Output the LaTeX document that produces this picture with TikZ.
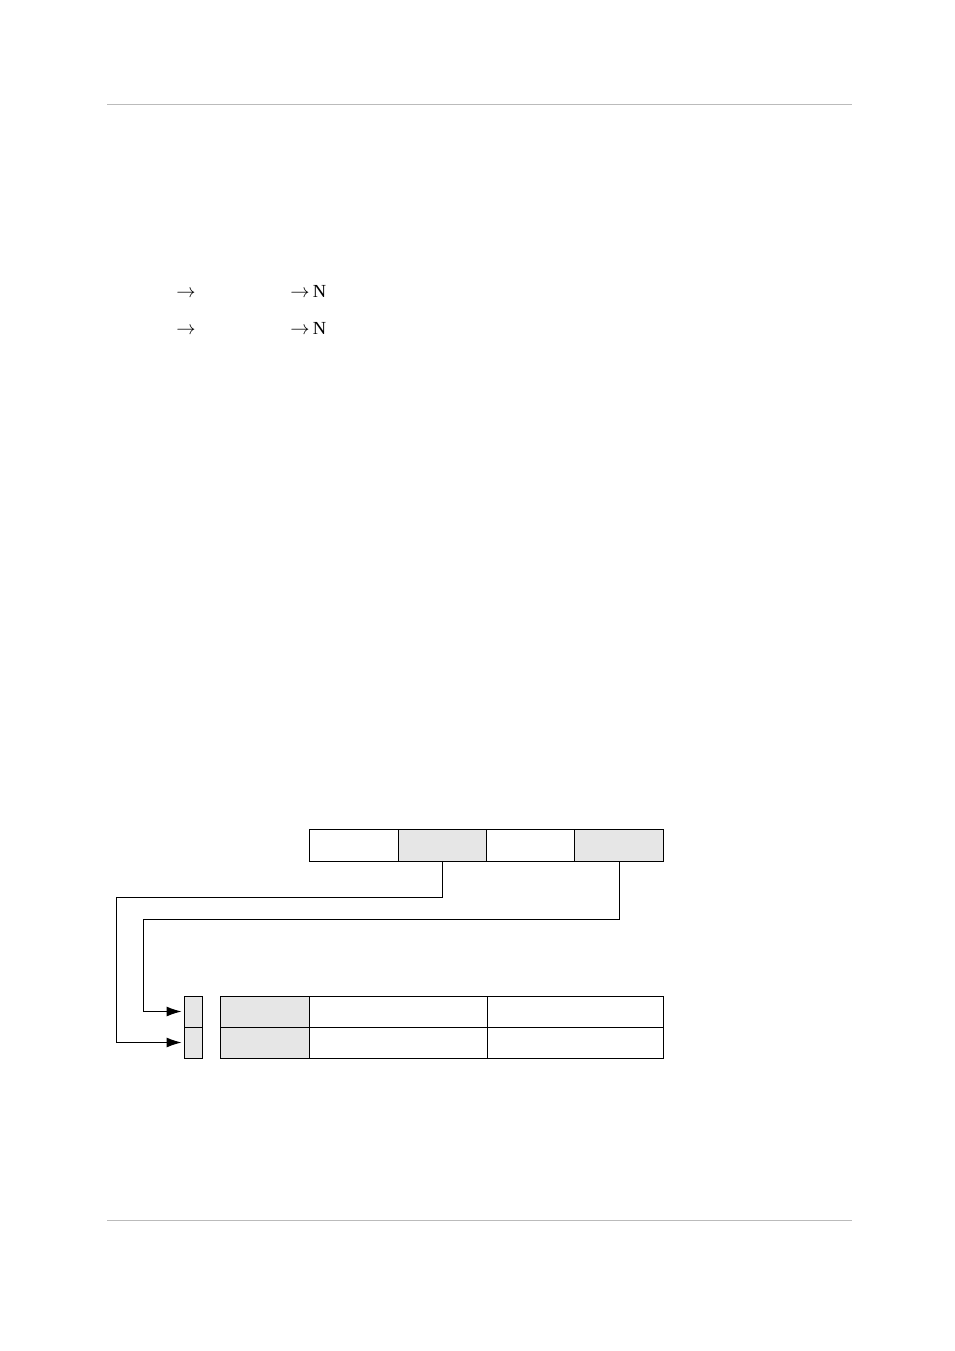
\documentclass[tikz,border=0pt]{standalone}
\usepackage{fontspec}
\setmainfont{Liberation Serif}
\usetikzlibrary{positioning,arrows.meta}
\definecolor{cellgray}{HTML}{E6E6E6}
\definecolor{rulegray}{HTML}{BBBBBB}
\begin{document}
\begin{tikzpicture}[x=0.624pt,y=-0.624pt,line width=0.6pt]
    \tikzstyle{every node}+=[inner sep=0pt]
    \tikzstyle{cell}=[draw=black,minimum height=32*0.624pt,minimum width=88.5*0.624pt]
    \tikzstyle{shaded}=[cell,fill=cellgray]
    \tikzstyle{slot}=[draw=black,fill=cellgray,minimum height=31*0.624pt,minimum width=18*0.624pt]
    \tikzstyle{link}=[-{Latex[length=15*0.624pt,width=10*0.624pt]},shorten >=2*0.624pt]
    \tikzstyle{txt}=[anchor=base west,font=\fontsize{11.5}{14}\selectfont]
    \useasboundingbox (0,0) rectangle (954,1351);
    % page rules
    \draw [rulegray] (107,104) -- (852,104);
    \draw [rulegray] (107,1220) -- (852,1220);
    % text lines
    \node [txt] (ar1) at (176,298) {$\rightarrow$};
    \node [txt] (n1) at (290,298) {$\rightarrow$\,N};
    \node [txt] (ar2) at (176,335) {$\rightarrow$};
    \node [txt] (n2) at (290,335) {$\rightarrow$\,N};
    % top row
    \node [cell] (f1) at (354,845) {};
    \node [shaded] (f2) at (442.5,845) {};
    \node [cell] (f3) at (531,845) {};
    \node [shaded] (f4) at (619,845) {};
    % bottom table
    \node [slot] (s1) at (193,1011.5) {};
    \node [slot] (s2) at (193,1042.5) {};
    \node [shaded,minimum height=31*0.624pt,minimum width=89*0.624pt] (g1) at (264.5,1011.5) {};
    \node [shaded,minimum height=31*0.624pt,minimum width=89*0.624pt] (g2) at (264.5,1042.5) {};
    \node [cell,minimum height=31*0.624pt,minimum width=178*0.624pt] (a1) at (398,1011.5) {};
    \node [cell,minimum height=31*0.624pt,minimum width=178*0.624pt] (a2) at (398,1042.5) {};
    \node [cell,minimum height=31*0.624pt,minimum width=176*0.624pt] (b1) at (575,1011.5) {};
    \node [cell,minimum height=31*0.624pt,minimum width=176*0.624pt] (b2) at (575,1042.5) {};
    % links
    \coordinate (k1) at (116,897);
    \coordinate (k2) at (143,919);
    \draw [link] (f2.south) |- (k1) |- (s2.west);
    \draw [link] (f4.south) |- (k2) |- (s1.west);
\end{tikzpicture}
\end{document}
